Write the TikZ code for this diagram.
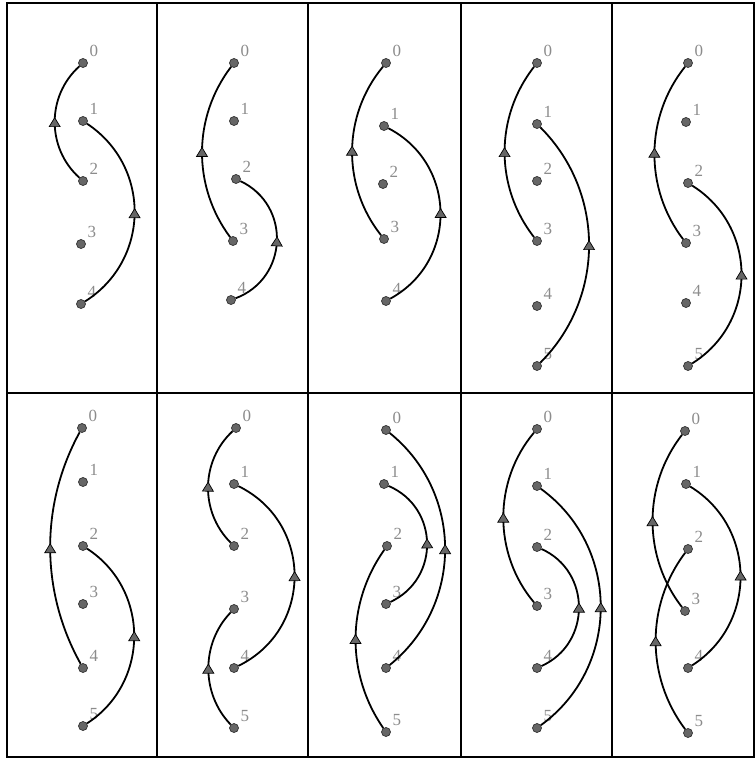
\documentclass[tikz,border=0pt]{standalone}
\usepackage{fontspec}
\setmainfont{Liberation Serif}
\usepackage{xcolor}
\usetikzlibrary{arrows.meta,decorations.markings}

\tikzset{
  dot/.style={circle,draw=black!80,line width=0.7pt,fill=black!60,minimum size=9pt,inner sep=0pt},
  num/.style={text=black!45,font=\fontsize{17}{17}\selectfont,inner sep=0.5pt},
  flow/.style={line width=1.8pt,postaction={decorate},
    decoration={markings,mark=at position 0.5 with
      {\arrow[xshift=5pt]{Triangle[width=12pt,length=10pt,line width=0.7pt,fill=black!60]}}}},
  grid/.style={line width=2pt}
}

\begin{document}
\begin{tikzpicture}[x=1pt,y=1pt,label distance=3.5pt]
    \useasboundingbox (0,-759) rectangle (755,0);
    % frame
    \draw[grid] (7,-3) rectangle (754,-757);
    \draw[grid] (7,-393) -- (754,-393);
    \foreach \c in {157,308,461,612} \draw[grid] (\c,-3) -- (\c,-757);
    % top row
    \foreach \n/\x/\y in {0/83/63,1/83/121,2/83/181,3/81/244,4/81/304}
      \node[dot,label={[num]45:\n}] (a\n) at (\x,-\y) {};
    \draw[flow] (a2) to[bend left=48,looseness=1.02] (a0);
    \draw[flow] (a4) to[bend right=57,looseness=1.11] (a1);

    \foreach \n/\x/\y in {0/234/63,1/234/121,2/236/179,3/233/241,4/231/300}
      \node[dot,label={[num]45:\n}] (b\n) at (\x,-\y) {};
    \draw[flow] (b3) to[bend left=37,looseness=0.95] (b0);
    \draw[flow] (b4) to[bend right=67,looseness=1.23] (b2);

    \foreach \n/\x/\y in {0/386/63,1/384/126,2/383/184,3/384/239,4/386/301}
      \node[dot,label={[num]45:\n}] (c\n) at (\x,-\y) {};
    \draw[flow] (c3) to[bend left=39,looseness=0.96] (c0);
    \draw[flow] (c4) to[bend right=62,looseness=1.16] (c1);

    \foreach \n/\x/\y in {0/537/63,1/537/124,2/537/181,3/537/241,4/537/306,5/537/366}
      \node[dot,label={[num]45:\n}] (d\n) at (\x,-\y) {};
    \draw[flow] (d3) to[bend left=38,looseness=0.96] (d0);
    \draw[flow] (d5) to[bend right=45,looseness=1.0] (d1);

    \foreach \n/\x/\y in {0/688/63,1/686/122,2/688/183,3/686/243,4/686/303,5/688/366}
      \node[dot,label={[num]45:\n}] (e\n) at (\x,-\y) {};
    \draw[flow] (e3) to[bend left=38,looseness=0.95] (e0);
    \draw[flow] (e5) to[bend right=58,looseness=1.12] (e2);

    % bottom row
    \foreach \n/\x/\y in {0/82/428,1/83/482,2/83/546,3/83/604,4/83/668,5/83/726}
      \node[dot,label={[num]45:\n}] (f\n) at (\x,-\y) {};
    \draw[flow] (f4) to[bend left=29,looseness=0.91] (f0);
    \draw[flow] (f5) to[bend right=57,looseness=1.1] (f2);

    \foreach \n/\x/\y in {0/236/428,1/234/484,2/234/546,3/234/609,4/234/668,5/234/728}
      \node[dot,label={[num]45:\n}] (g\n) at (\x,-\y) {};
    \draw[flow] (g2) to[bend left=46,looseness=1.0] (g0);
    \draw[flow] (g4) to[bend right=64,looseness=1.19] (g1);
    \draw[flow] (g5) to[bend left=44,looseness=0.98] (g3);

    \foreach \n/\x/\y in {0/386/430,1/384/484,2/387/546,3/386/604,4/386/668,5/386/732}
      \node[dot,label={[num]45:\n}] (h\n) at (\x,-\y) {};
    \draw[flow] (h3) to[bend right=66,looseness=1.21] (h1);
    \draw[flow] (h4) to[bend right=51,looseness=1.05] (h0);
    \draw[flow] (h5) to[bend left=35,looseness=0.94] (h2);

    \foreach \n/\x/\y in {0/537/429,1/537/486,2/537/547,3/537/606,4/537/668,5/537/728}
      \node[dot,label={[num]45:\n}] (i\n) at (\x,-\y) {};
    \draw[flow] (i3) to[bend left=40,looseness=0.96] (i0);
    \draw[flow] (i4) to[bend right=66,looseness=1.2] (i2);
    \draw[flow] (i5) to[bend right=54,looseness=1.07] (i1);

    \foreach \n/\x/\y in {0/685/431,1/686/484,2/688/549,3/685/611,4/688/668,5/688/733}
      \node[dot,label={[num]45:\n}] (j\n) at (\x,-\y) {};
    \draw[flow] (j3) to[bend left=38,looseness=0.95] (j0);
    \draw[flow] (j4) to[bend right=58,looseness=1.11] (j1);
    \draw[flow] (j5) to[bend left=37,looseness=0.95] (j2);
\end{tikzpicture}
\end{document}
